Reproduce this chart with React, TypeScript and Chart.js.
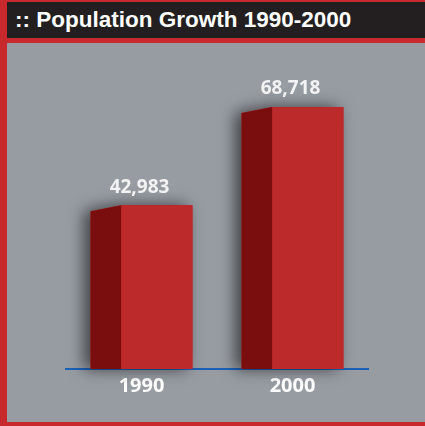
import React, { useEffect, useRef } from "react";
import { Chart, registerables } from "chart.js";

Chart.register(...registerables);

const title = ":: Population Growth 1990-2000";
const categories = ["1990", "2000"];
const population = [42983, 68718];

const frontColor = "#bd2a2c";
const sideColor = "#7a0e0e";

const bars3d = {
  id: "bars3d",
  afterDatasetsDraw(chart: any) {
    const ctx = chart.ctx;
    const meta = chart.getDatasetMeta(0);
    meta.data.forEach((el: any, i: number) => {
      const { x, y, base, width } = el.getProps(["x", "y", "base", "width"], true);
      const left = x - width / 2;
      const right = x + width / 2;
      const sw = width * 0.3;
      const slant = 6;
      ctx.save();
      ctx.shadowColor = "rgba(0,0,0,0.6)";
      ctx.shadowBlur = 16;
      ctx.shadowOffsetX = -6;
      ctx.shadowOffsetY = 0;
      ctx.fillStyle = frontColor;
      ctx.beginPath();
      ctx.moveTo(left, y + slant);
      ctx.lineTo(left + sw, y);
      ctx.lineTo(right, y);
      ctx.lineTo(right, base);
      ctx.lineTo(left, base);
      ctx.closePath();
      ctx.fill();
      ctx.restore();
      ctx.save();
      ctx.fillStyle = frontColor;
      ctx.fillRect(left + sw, y, right - left - sw, base - y);
      ctx.fillStyle = sideColor;
      ctx.beginPath();
      ctx.moveTo(left, y + slant);
      ctx.lineTo(left + sw, y);
      ctx.lineTo(left + sw, base);
      ctx.lineTo(left, base);
      ctx.closePath();
      ctx.fill();
      ctx.fillStyle = "#f3f3f3";
      ctx.font = "bold 19px 'Open Sans'";
      ctx.textAlign = "center";
      ctx.textBaseline = "middle";
      ctx.fillText(population[i].toLocaleString("en-US"), x - 2, y - 18);
      ctx.restore();
    });
  },
};

export default function App() {
  const ref = useRef<HTMLCanvasElement>(null);
  useEffect(() => {
    const chart = new Chart(ref.current!, {
      type: "bar",
      data: {
        labels: categories,
        datasets: [
          {
            data: population,
            backgroundColor: "rgba(0,0,0,0)",
            borderWidth: 0,
            barPercentage: 0.675,
            categoryPercentage: 1,
          },
        ],
      },
      options: {
        animation: false,
        responsive: false,
        layout: { padding: { left: 59, right: 57, top: 21, bottom: 0 } },
        plugins: { legend: { display: false }, tooltip: { enabled: false } },
        scales: {
          x: {
            grid: { display: false, drawTicks: false },
            border: { display: true, color: "#1a62b8", width: 2 },
            ticks: {
              color: "#ffffff",
              font: { family: "'Open Sans'", weight: "bold", size: 20 },
              padding: 5,
            },
            afterFit: (s: any) => {
              s.height = 53;
            },
          },
          y: { display: false, min: 0, max: 80000 },
        },
      },
      plugins: [bars3d],
    });
    return () => chart.destroy();
  }, []);

  return (
    <div
      style={{
        position: "fixed",
        left: 0,
        top: 0,
        width: 425,
        height: 426,
        background: "#c8292c",
        overflow: "hidden",
      }}
    >
      <div
        style={{
          position: "absolute",
          left: 7,
          top: 2,
          width: 418,
          height: 36,
          background: "#231f20",
          color: "#ffffff",
          fontFamily: "'Liberation Sans', Arial, sans-serif",
          fontWeight: "bold",
          fontSize: 22.5,
          lineHeight: "36px",
          paddingLeft: 8,
          boxSizing: "border-box",
          whiteSpace: "nowrap",
        }}
      >
        {title}
      </div>
      <div
        style={{
          position: "absolute",
          left: 7,
          top: 43,
          width: 418,
          height: 379,
          background: "#979ca3",
        }}
      >
        <canvas ref={ref} width={418} height={379} style={{ display: "block" }} />
      </div>
    </div>
  );
}
